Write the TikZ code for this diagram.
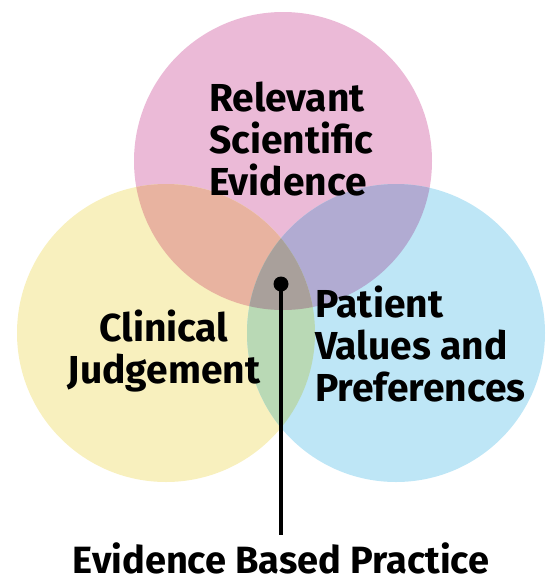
\documentclass[tikz,border=0pt]{standalone}
\usepackage{fontspec}
\setmainfont{Fira Sans}[BoldFont={Fira Sans Bold}]
\definecolor{pinkc}{HTML}{EBBAD7}
\definecolor{yellowc}{HTML}{F8F0BE}
\definecolor{bluec}{HTML}{BEE6F6}
\definecolor{pinkyellow}{HTML}{E8B3A0}
\definecolor{pinkblue}{HTML}{B1ABD2}
\definecolor{yellowblue}{HTML}{B9D9B5}
\definecolor{allthree}{HTML}{A9A09B}
\begin{document}
\begin{tikzpicture}[x=1pt,y=-1pt,
  label/.style={inner sep=0pt,font=\bfseries\fontsize{39}{42}\selectfont},
  ring/.style={radius=149}]
\useasboundingbox (0,0) rectangle (547,579);
% the three sets
\coordinate (cp) at (283,161);
\coordinate (cy) at (166,333);
\coordinate (cb) at (396,333);
\fill[pinkc] (cp) circle[ring];
\fill[yellowc] (cy) circle[ring];
\fill[bluec] (cb) circle[ring];
% pairwise overlaps
\begin{scope}
  \clip (cp) circle[ring];
  \fill[pinkyellow] (cy) circle[ring];
  \fill[pinkblue] (cb) circle[ring];
\end{scope}
\begin{scope}
  \clip (cy) circle[ring];
  \fill[yellowblue] (cb) circle[ring];
\end{scope}
% common region
\begin{scope}
  \clip (cp) circle[ring];
  \clip (cy) circle[ring];
  \fill[allthree] (cb) circle[ring];
\end{scope}
% labels
\node[label,align=left,anchor=north west] (rse) at (209,82)
  {Relevant\\Scientific\\Evidence};
\node[label,align=center,anchor=north] (cj) at (164,310)
  {Clinical\\Judgement};
\node[label,align=left,anchor=north west] (pvp) at (315,286)
  {Patient\\Values and\\Preferences};
% pointer to the shared region
\node[circle,fill=black,inner sep=0pt,minimum size=15] (dot) at (281,284) {};
\node[label,anchor=north,inner sep=0pt,font=\bfseries\fontsize{38}{42}\selectfont]
  (ebp) at (281,542) {Evidence Based Practice};
\coordinate (stop) at (281,535);
\draw[line width=4] (dot.center) -- (stop);
\end{tikzpicture}
\end{document}
